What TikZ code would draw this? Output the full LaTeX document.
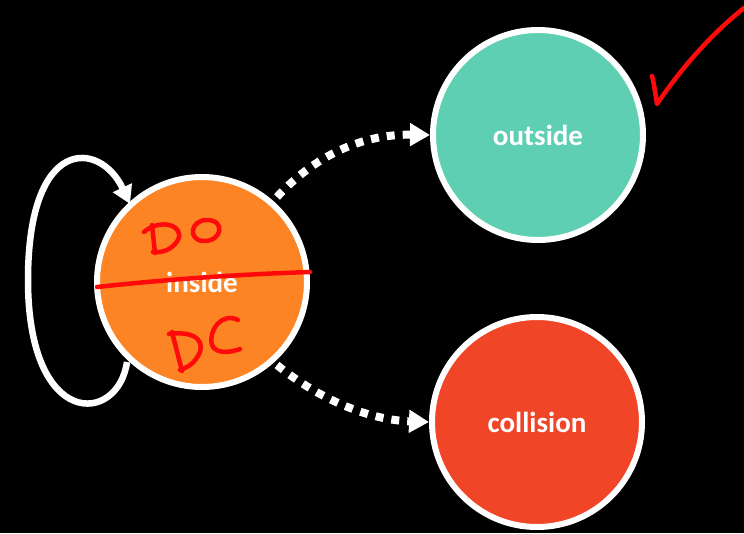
\documentclass[tikz,border=0pt]{standalone}
\usepackage{fontspec}
\setmainfont{Carlito}
\usetikzlibrary{arrows.meta}
\definecolor{cinside}{HTML}{FD8424}
\definecolor{coutside}{HTML}{5ECFB2}
\definecolor{ccoll}{HTML}{F04526}
\definecolor{ink}{HTML}{FF0A0A}
\begin{document}
\begin{tikzpicture}[x=1pt,y=-1pt,
  state/.style={circle,draw=white,line width=6pt,minimum size=210pt,inner sep=0pt,
    text=white,font=\fontsize{29}{29}\selectfont\bfseries},
  dotarrow/.style={draw=white,line width=8pt,dash pattern=on 8pt off 8pt,
    -{Triangle[length=20pt,width=22pt]}},
  loop/.style={draw=white,line width=6.5pt,-{Triangle[length=18pt,width=20pt]}},
  pen/.style={draw=ink,line width=4.5pt,line cap=round,line join=round}]
\fill[black] (0,0) rectangle (744,533);
\useasboundingbox (0,0) rectangle (744,533);
\node[state,fill=cinside] (in) at (202,282) {inside};
\node[state,fill=coutside] (out) at (538,135) {outside};
\node[state,fill=ccoll] (col) at (537,422) {collision};
\coordinate (ls) at (127,362);
\coordinate (le) at (130,204);
\draw[loop] (ls) .. controls (118,425) and (28,430) .. (28,280)
  .. controls (28,135) and (100,140) .. (le);
\coordinate (a1) at (277,197);
\coordinate (b1) at (277,365);
\draw[dotarrow] (a1) .. controls (320,150) and (370,134) .. (out.west);
\draw[dotarrow] (b1) .. controls (320,400) and (370,420) .. (col.west);
% annotations
\draw[pen] (97,287) .. controls (180,278) and (250,274) .. (310,272);
% DO
\draw[pen] (152,225) -- (155,253);
\draw[pen] (144,232) .. controls (160,218) and (185,225) .. (178,240) .. controls (172,250) and (162,253) .. (153,252);
\draw[pen] (207,220) .. controls (190,220) and (188,240) .. (203,241) .. controls (222,242) and (226,220) .. (207,220);
% DC
\draw[pen] (172,332) -- (182,371);
\draw[pen] (169,334) .. controls (200,330) and (205,345) .. (198,356) .. controls (192,366) and (185,368) .. (180,370);
\draw[pen] (238,320) .. controls (222,312) and (208,330) .. (212,345) .. controls (216,355) and (232,352) .. (240,349);
% check mark
\draw[pen] (652,76) -- (653,80) .. controls (655,90) and (656,98) .. (657,104)
  .. controls (680,70) and (710,35) .. (744,8);
\end{tikzpicture}
\end{document}
